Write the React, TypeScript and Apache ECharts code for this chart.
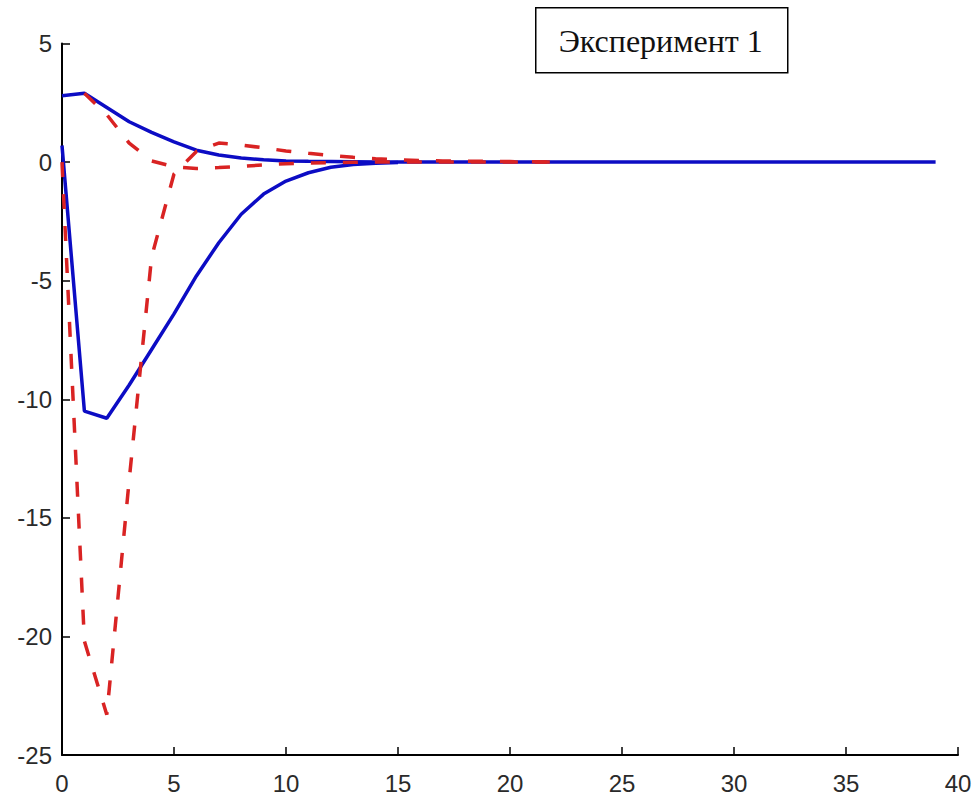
import React, { useEffect, useRef } from "react";
import * as echarts from "echarts";

const xTicks = [0, 5, 10, 15, 20, 25, 30, 35, 40];

// Blue solid curve 1 (upper), x = 0..39
const blueUpperX = [0, 1, 2, 3, 4, 5, 6, 7, 8, 9, 10, 11, 12, 13, 14, 15, 20, 25, 30, 35, 39];
const blueUpperY = [2.8, 2.9, 2.3, 1.7, 1.25, 0.85, 0.5, 0.3, 0.17, 0.1, 0.05, 0.03, 0.02, 0.01, 0, 0, 0, 0, 0, 0, 0];

// Blue solid curve 2 (lower)
const blueLowerX = [0, 1, 2, 3, 4, 5, 6, 7, 8, 9, 10, 11, 12, 13, 14, 15];
const blueLowerY = [0.7, -10.5, -10.8, -9.4, -7.9, -6.4, -4.8, -3.4, -2.2, -1.35, -0.8, -0.45, -0.22, -0.1, -0.05, -0.02];

// Red dashed curve 1 (upper)
const redUpperX = [1, 2, 3, 4, 5, 6, 7, 8, 9, 10, 11, 12, 13, 14, 15, 16, 18, 20, 22];
const redUpperY = [2.9, 2.0, 0.8, 0.05, -0.2, -0.27, -0.23, -0.18, -0.12, -0.07, -0.04, -0.02, -0.01, 0, 0, 0, 0, 0, 0];

// Red dashed curve 2 (lower)
const redLowerX = [0, 1, 2, 3, 4, 5, 6, 7, 8, 9, 10, 11, 12, 13, 14, 15, 16, 17, 18, 19, 20, 21, 22];
const redLowerY = [0, -20.2, -23.3, -13.4, -4.0, -0.5, 0.45, 0.8, 0.72, 0.6, 0.47, 0.37, 0.28, 0.2, 0.14, 0.1, 0.07, 0.05, 0.04, 0.03, 0.02, 0.01, 0];

const zip = (xs: number[], ys: number[]) => xs.map((x, i) => [x, ys[i]]);

const BLUE = "#0c0cc4";
const RED = "#d92323";

export default function App() {
  const ref = useRef<HTMLDivElement>(null);
  useEffect(() => {
    if (!ref.current) return;
    const chart = echarts.init(ref.current, null, { renderer: "svg" });
    const labelStyle = {
      color: "#2a2a2a",
      fontFamily: "'Liberation Sans', Arial, sans-serif",
      fontSize: 24,
    };
    const solid = { color: BLUE, width: 3.5 };
    const dashed = { color: RED, width: 3.5, type: [15, 17] };
    chart.setOption({
      animation: false,
      backgroundColor: "#ffffff",
      grid: { left: 62, right: 21, top: 43.5, bottom: 40, containLabel: false },
      xAxis: {
        type: "value",
        min: 0,
        max: 40,
        interval: 5,
        axisLine: { show: true, onZero: false, lineStyle: { color: "#000", width: 2 } },
        axisTick: { show: true, inside: true, length: 8, lineStyle: { color: "#000", width: 1.5 } },
        axisLabel: { ...labelStyle, margin: 16, formatter: (v: number) => (xTicks.includes(v) ? String(v) : "") },
        splitLine: { show: false },
      },
      yAxis: {
        type: "value",
        min: -25,
        max: 5,
        interval: 5,
        axisLine: { show: true, onZero: false, lineStyle: { color: "#000", width: 2 } },
        axisTick: { show: true, inside: true, length: 8, lineStyle: { color: "#000", width: 1.5 } },
        axisLabel: { ...labelStyle, margin: 10 },
        splitLine: { show: false },
      },
      series: [
        { type: "line", data: zip(blueUpperX, blueUpperY), showSymbol: false, symbol: "none", lineStyle: solid, z: 2 },
        { type: "line", data: zip(blueLowerX, blueLowerY), showSymbol: false, symbol: "none", lineStyle: solid, z: 2 },
        { type: "line", data: zip(redUpperX, redUpperY), showSymbol: false, symbol: "none", lineStyle: dashed, z: 3 },
        { type: "line", data: zip(redLowerX, redLowerY), showSymbol: false, symbol: "none", lineStyle: dashed, z: 3 },
      ],
      graphic: [
        {
          type: "group",
          left: 535,
          top: 7,
          children: [
            {
              type: "rect",
              shape: { x: 0, y: 0, width: 252, height: 65 },
              style: { fill: "#fff", stroke: "#000", lineWidth: 1.5 },
            },
            {
              type: "text",
              x: 125,
              y: 33,
              style: {
                text: "Эксперимент 1",
                fill: "#111",
                font: "32px 'Liberation Serif', 'Times New Roman', serif",
                align: "center",
                verticalAlign: "middle",
              },
            },
          ],
        },
      ],
    });
    return () => chart.dispose();
  }, []);
  return <div ref={ref} style={{ position: "absolute", left: 0, top: 0, width: 979, height: 795 }} />;
}
